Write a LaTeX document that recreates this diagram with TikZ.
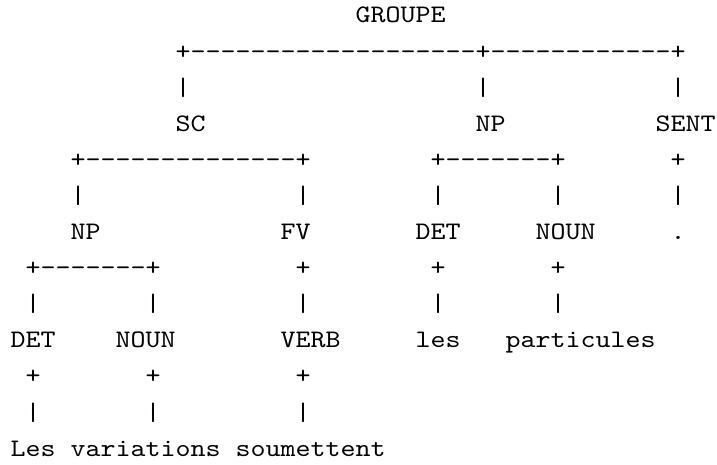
\documentclass[tikz,border=0pt]{standalone}
\usepackage{fontspec}
\setmonofont{lmmono10-regular.otf}[FakeStretch=1.134]
\newcommand{\treesize}{\fontsize{12.6}{15}\selectfont}
\tikzstyle{cell}=[anchor=base west, inner sep=0pt, font=\ttfamily\treesize]

\begin{document}
\begin{tikzpicture}[x=7.5pt, y=-18.05pt]
\useasboundingbox (-0.68,-0.637) rectangle (47.12,12.244);
% categories
\node[cell] (groupe) at (23,0) {GROUPE};
\node[cell] (sc) at (11,3) {SC};
\node[cell] (np0) at (31,3) {NP};
\node[cell] (sent) at (43,3) {SENT};
\node[cell] (np1) at (4,6) {NP};
\node[cell] (fv) at (18,6) {FV};
\node[cell] (det0) at (27,6) {DET};
\node[cell] (noun0) at (35,6) {NOUN};
\node[cell] (dot) at (44,6) {.};
\node[cell] (det1) at (0,9) {DET};
\node[cell] (noun1) at (7,9) {NOUN};
\node[cell] (verb) at (18,9) {VERB};
% words
\node[cell] (les0) at (27,9) {les};
\node[cell] (particules) at (33,9) {particules};
\node[cell] (les1) at (0,12) {Les};
\node[cell] (variations) at (4,12) {variations};
\node[cell] (soumettent) at (15,12) {soumettent};
% branches
\node[cell] (brA) at (11,1) {+-------------------+------------+};
\node[cell] (barA1) at (11,2) {|};
\node[cell] (barA2) at (31,2) {|};
\node[cell] (barA3) at (44,2) {|};
\node[cell] (brB) at (4,4) {+--------------+};
\node[cell] (brC) at (28,4) {+-------+};
\node[cell] (plD) at (44,4) {+};
\node[cell] (barB1) at (4,5) {|};
\node[cell] (barB2) at (19,5) {|};
\node[cell] (barC1) at (28,5) {|};
\node[cell] (barC2) at (36,5) {|};
\node[cell] (barD) at (44,5) {|};
\node[cell] (brE) at (1,7) {+-------+};
\node[cell] (plF) at (19,7) {+};
\node[cell] (plG1) at (28,7) {+};
\node[cell] (plG2) at (36,7) {+};
\node[cell] (barE1) at (1,8) {|};
\node[cell] (barE2) at (9,8) {|};
\node[cell] (barF) at (19,8) {|};
\node[cell] (barG1) at (28,8) {|};
\node[cell] (barG2) at (36,8) {|};
\node[cell] (plH1) at (1,10) {+};
\node[cell] (plH2) at (9,10) {+};
\node[cell] (plH3) at (19,10) {+};
\node[cell] (barH1) at (1,11) {|};
\node[cell] (barH2) at (9,11) {|};
\node[cell] (barH3) at (19,11) {|};
\end{tikzpicture}
\end{document}
